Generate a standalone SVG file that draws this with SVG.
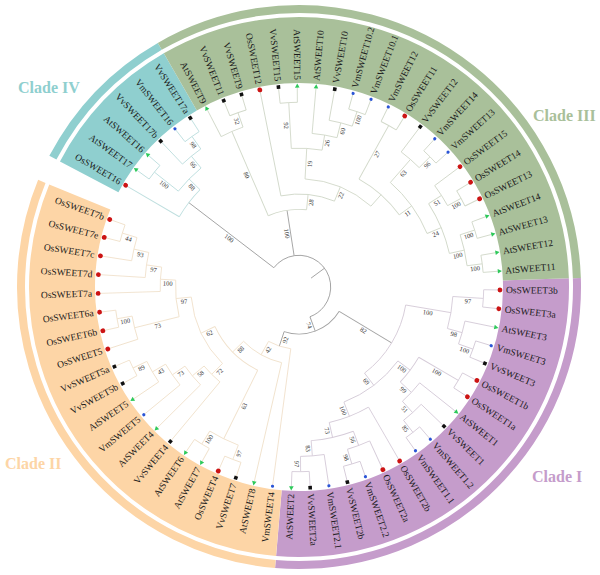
<svg xmlns="http://www.w3.org/2000/svg" xmlns:xlink="http://www.w3.org/1999/xlink" width="600" height="575" viewBox="0 0 600 575">
<style>
.sec{fill:none}
.b0,.b1,.b2,.b3,.b4{fill:none;stroke-width:0.9}
.b0{stroke:#a3a3a3}
.b1{stroke:#d6ccd9}
.b2{stroke:#f1e2cd}
.b3{stroke:#d2d9ca}
.b4{stroke:#bfdfdf}
text{font-family:"Liberation Serif","Times New Roman",serif}
.r{font-size:9.5px;fill:#1a1a1a;text-anchor:start;dominant-baseline:central}
.l{font-size:9.5px;fill:#1a1a1a;text-anchor:end;dominant-baseline:central}
.bs{font-size:6.5px;fill:#333;text-anchor:middle;dominant-baseline:central}
.cl{font-size:16px;font-weight:bold}
</style>
<defs>
<circle id="os" r="2.4" fill="#cc1414"/>
<polygon id="at" points="2.6,0 -1.6,2.3 -1.6,-2.3" fill="#2dc95a"/>
<rect id="vv" x="-1.8" y="-1.8" width="3.6" height="3.6" fill="#111"/>
<circle id="vm" r="1.6" fill="#2b55d6"/>
</defs>
<rect width="600" height="575" fill="#fff"/>
<g id="sectors" transform="translate(299,287)">
<circle class="sec" r="237" stroke="#c59ccb" stroke-width="66" pathLength="360" stroke-dasharray="96.72 400" transform="rotate(-1.84)"/>
<circle class="sec" r="237" stroke="#fdd5a6" stroke-width="66" pathLength="360" stroke-dasharray="107.46 400" transform="rotate(94.88)"/>
<circle class="sec" r="237" stroke="#8fcfcf" stroke-width="66" pathLength="360" stroke-dasharray="32.24 400" transform="rotate(207.71)"/>
<circle class="sec" r="237" stroke="#a9c09a" stroke-width="66" pathLength="360" stroke-dasharray="118.21 400" transform="rotate(239.95)"/>
<circle class="sec" r="278" stroke="#c59ccb" stroke-width="8" pathLength="360" stroke-dasharray="96.72 400" transform="rotate(-1.84)"/>
<circle class="sec" r="278" stroke="#fdd5a6" stroke-width="8" pathLength="360" stroke-dasharray="107.46 400" transform="rotate(94.88)"/>
<circle class="sec" r="278" stroke="#8fcfcf" stroke-width="8" pathLength="360" stroke-dasharray="32.24 400" transform="rotate(207.71)"/>
<circle class="sec" r="278" stroke="#a9c09a" stroke-width="8" pathLength="360" stroke-dasharray="118.21 400" transform="rotate(239.95)"/>
</g>
<g id="clade-labels">
<text class="cl" x="18" y="93" fill="#8fcfcf">Clade IV</text>
<text class="cl" x="533" y="121" fill="#a9c09a">Clade III</text>
<text class="cl" x="532" y="482" fill="#c59ccb">Clade I</text>
<text class="cl" x="5" y="469" fill="#fdd5a6">Clade II</text>
</g>
<g id="connectors" transform="translate(299,287)">
<g class="b0">
<circle r="31.7" pathLength="360" stroke-dasharray="212.34 400" transform="rotate(217.45)"/>
<circle r="47" pathLength="360" stroke-dasharray="77.26 400" transform="rotate(31.16)"/>
<line x1="15" x2="31.7" transform="rotate(323.62)"/>
<line x1="31.7" x2="138.8" transform="rotate(217.45)"/>
<line x1="31.7" x2="77.6" transform="rotate(261.13)"/>
<line x1="31.7" x2="47" transform="rotate(69.79)"/>
<line x1="47" x2="108.2" transform="rotate(31.16)"/>
<line x1="47" x2="62.3" transform="rotate(108.42)"/>
</g>
<g class="b1">
<circle r="184.7" pathLength="360" stroke-dasharray="5.37 400" transform="rotate(0.85)"/>
<circle r="184.7" pathLength="360" stroke-dasharray="5.37 400" transform="rotate(16.97)"/>
<circle r="169.4" pathLength="360" stroke-dasharray="8.06 400" transform="rotate(11.6)"/>
<circle r="154.1" pathLength="360" stroke-dasharray="12.09 400" transform="rotate(3.54)"/>
<circle r="184.7" pathLength="360" stroke-dasharray="5.37 400" transform="rotate(27.72)"/>
<circle r="184.7" pathLength="360" stroke-dasharray="5.37 400" transform="rotate(49.21)"/>
<circle r="169.4" pathLength="360" stroke-dasharray="8.07 400" transform="rotate(43.83)"/>
<circle r="154.1" pathLength="360" stroke-dasharray="9.4 400" transform="rotate(38.46)"/>
<circle r="138.8" pathLength="360" stroke-dasharray="12.76 400" transform="rotate(30.4)"/>
<circle r="184.7" pathLength="360" stroke-dasharray="5.37 400" transform="rotate(70.7)"/>
<circle r="169.4" pathLength="360" stroke-dasharray="8.05 400" transform="rotate(65.33)"/>
<circle r="184.7" pathLength="360" stroke-dasharray="5.37 400" transform="rotate(86.82)"/>
<circle r="169.4" pathLength="360" stroke-dasharray="8.05 400" transform="rotate(81.45)"/>
<circle r="154.1" pathLength="360" stroke-dasharray="16.12 400" transform="rotate(69.36)"/>
<circle r="138.8" pathLength="360" stroke-dasharray="17.47 400" transform="rotate(59.95)"/>
<circle r="123.5" pathLength="360" stroke-dasharray="31.9 400" transform="rotate(36.78)"/>
<circle r="108.2" pathLength="360" stroke-dasharray="43.15 400" transform="rotate(9.58)"/>
<line x1="184.7" x2="200" transform="rotate(0.85)"/>
<line x1="184.7" x2="200" transform="rotate(6.22)"/>
<line x1="169.4" x2="200" transform="rotate(11.6)"/>
<line x1="184.7" x2="200" transform="rotate(16.97)"/>
<line x1="184.7" x2="200" transform="rotate(22.34)"/>
<line x1="184.7" x2="200" transform="rotate(27.72)"/>
<line x1="184.7" x2="200" transform="rotate(33.09)"/>
<line x1="154.1" x2="200" transform="rotate(38.46)"/>
<line x1="169.4" x2="200" transform="rotate(43.83)"/>
<line x1="184.7" x2="200" transform="rotate(49.21)"/>
<line x1="184.7" x2="200" transform="rotate(54.58)"/>
<line x1="138.8" x2="200" transform="rotate(59.95)"/>
<line x1="169.4" x2="200" transform="rotate(65.33)"/>
<line x1="184.7" x2="200" transform="rotate(70.7)"/>
<line x1="184.7" x2="200" transform="rotate(76.07)"/>
<line x1="169.4" x2="200" transform="rotate(81.45)"/>
<line x1="184.7" x2="200" transform="rotate(86.82)"/>
<line x1="184.7" x2="200" transform="rotate(92.19)"/>
<line x1="154.1" x2="184.7" transform="rotate(3.54)"/>
<line x1="169.4" x2="184.7" transform="rotate(19.66)"/>
<line x1="154.1" x2="169.4" transform="rotate(15.63)"/>
<line x1="108.2" x2="154.1" transform="rotate(9.58)"/>
<line x1="138.8" x2="184.7" transform="rotate(30.4)"/>
<line x1="169.4" x2="184.7" transform="rotate(51.9)"/>
<line x1="154.1" x2="169.4" transform="rotate(47.86)"/>
<line x1="138.8" x2="154.1" transform="rotate(43.16)"/>
<line x1="123.5" x2="138.8" transform="rotate(36.78)"/>
<line x1="169.4" x2="184.7" transform="rotate(73.38)"/>
<line x1="154.1" x2="169.4" transform="rotate(69.36)"/>
<line x1="169.4" x2="184.7" transform="rotate(89.5)"/>
<line x1="154.1" x2="169.4" transform="rotate(85.48)"/>
<line x1="138.8" x2="154.1" transform="rotate(77.42)"/>
<line x1="123.5" x2="138.8" transform="rotate(68.68)"/>
<line x1="108.2" x2="123.5" transform="rotate(52.73)"/>
</g>
<g class="b2">
<circle r="184.7" pathLength="360" stroke-dasharray="5.38 400" transform="rotate(108.31)"/>
<circle r="184.7" pathLength="360" stroke-dasharray="5.37 400" transform="rotate(119.06)"/>
<circle r="169.4" pathLength="360" stroke-dasharray="10.75 400" transform="rotate(111)"/>
<circle r="184.7" pathLength="360" stroke-dasharray="5.37 400" transform="rotate(151.3)"/>
<circle r="169.4" pathLength="360" stroke-dasharray="8.06 400" transform="rotate(145.92)"/>
<circle r="154.1" pathLength="360" stroke-dasharray="9.4 400" transform="rotate(140.55)"/>
<circle r="138.8" pathLength="360" stroke-dasharray="10.07 400" transform="rotate(135.18)"/>
<circle r="123.5" pathLength="360" stroke-dasharray="10.41 400" transform="rotate(129.8)"/>
<circle r="184.7" pathLength="360" stroke-dasharray="5.37 400" transform="rotate(194.28)"/>
<circle r="169.4" pathLength="360" stroke-dasharray="8.06 400" transform="rotate(188.91)"/>
<circle r="154.1" pathLength="360" stroke-dasharray="9.4 400" transform="rotate(183.54)"/>
<circle r="138.8" pathLength="360" stroke-dasharray="10.08 400" transform="rotate(178.16)"/>
<circle r="184.7" pathLength="360" stroke-dasharray="5.37 400" transform="rotate(167.42)"/>
<circle r="169.4" pathLength="360" stroke-dasharray="8.06 400" transform="rotate(162.04)"/>
<circle r="123.5" pathLength="360" stroke-dasharray="17.13 400" transform="rotate(166.07)"/>
<circle r="108.2" pathLength="360" stroke-dasharray="39.63 400" transform="rotate(135.01)"/>
<circle r="92.9" pathLength="360" stroke-dasharray="38.45 400" transform="rotate(116.37)"/>
<circle r="77.6" pathLength="360" stroke-dasharray="32.66 400" transform="rotate(102.94)"/>
<circle r="62.3" pathLength="360" stroke-dasharray="21.7 400" transform="rotate(97.57)"/>
<line x1="62.3" x2="200" transform="rotate(97.57)"/>
<line x1="77.6" x2="200" transform="rotate(102.94)"/>
<line x1="184.7" x2="200" transform="rotate(108.31)"/>
<line x1="184.7" x2="200" transform="rotate(113.69)"/>
<line x1="184.7" x2="200" transform="rotate(119.06)"/>
<line x1="184.7" x2="200" transform="rotate(124.43)"/>
<line x1="123.5" x2="200" transform="rotate(129.8)"/>
<line x1="138.8" x2="200" transform="rotate(135.18)"/>
<line x1="154.1" x2="200" transform="rotate(140.55)"/>
<line x1="169.4" x2="200" transform="rotate(145.92)"/>
<line x1="184.7" x2="200" transform="rotate(151.3)"/>
<line x1="184.7" x2="200" transform="rotate(156.67)"/>
<line x1="169.4" x2="200" transform="rotate(162.04)"/>
<line x1="184.7" x2="200" transform="rotate(167.42)"/>
<line x1="184.7" x2="200" transform="rotate(172.79)"/>
<line x1="138.8" x2="200" transform="rotate(178.16)"/>
<line x1="154.1" x2="200" transform="rotate(183.54)"/>
<line x1="169.4" x2="200" transform="rotate(188.91)"/>
<line x1="184.7" x2="200" transform="rotate(194.28)"/>
<line x1="184.7" x2="200" transform="rotate(199.65)"/>
<line x1="169.4" x2="184.7" transform="rotate(111)"/>
<line x1="169.4" x2="184.7" transform="rotate(121.75)"/>
<line x1="92.9" x2="169.4" transform="rotate(116.37)"/>
<line x1="169.4" x2="184.7" transform="rotate(153.98)"/>
<line x1="154.1" x2="169.4" transform="rotate(149.95)"/>
<line x1="138.8" x2="154.1" transform="rotate(145.25)"/>
<line x1="123.5" x2="138.8" transform="rotate(140.21)"/>
<line x1="108.2" x2="123.5" transform="rotate(135.01)"/>
<line x1="169.4" x2="184.7" transform="rotate(196.97)"/>
<line x1="154.1" x2="169.4" transform="rotate(192.94)"/>
<line x1="138.8" x2="154.1" transform="rotate(188.24)"/>
<line x1="123.5" x2="138.8" transform="rotate(183.2)"/>
<line x1="169.4" x2="184.7" transform="rotate(170.1)"/>
<line x1="123.5" x2="169.4" transform="rotate(166.07)"/>
<line x1="108.2" x2="123.5" transform="rotate(174.64)"/>
<line x1="92.9" x2="108.2" transform="rotate(154.82)"/>
<line x1="77.6" x2="92.9" transform="rotate(135.6)"/>
<line x1="62.3" x2="77.6" transform="rotate(119.27)"/>
</g>
<g class="b4">
<circle r="184.7" pathLength="360" stroke-dasharray="5.38 400" transform="rotate(231.89)"/>
<circle r="169.4" pathLength="360" stroke-dasharray="8.06 400" transform="rotate(226.52)"/>
<circle r="184.7" pathLength="360" stroke-dasharray="5.38 400" transform="rotate(215.77)"/>
<circle r="154.1" pathLength="360" stroke-dasharray="12.09 400" transform="rotate(218.46)"/>
<circle r="138.8" pathLength="360" stroke-dasharray="14.1 400" transform="rotate(210.4)"/>
<line x1="138.8" x2="200" transform="rotate(210.4)"/>
<line x1="184.7" x2="200" transform="rotate(215.77)"/>
<line x1="184.7" x2="200" transform="rotate(221.15)"/>
<line x1="169.4" x2="200" transform="rotate(226.52)"/>
<line x1="184.7" x2="200" transform="rotate(231.89)"/>
<line x1="184.7" x2="200" transform="rotate(237.27)"/>
<line x1="169.4" x2="184.7" transform="rotate(234.58)"/>
<line x1="154.1" x2="169.4" transform="rotate(230.55)"/>
<line x1="154.1" x2="184.7" transform="rotate(218.46)"/>
<line x1="138.8" x2="154.1" transform="rotate(224.5)"/>
</g>
<g class="b3">
<circle r="184.7" pathLength="360" stroke-dasharray="5.37 400" transform="rotate(248.01)"/>
<circle r="169.4" pathLength="360" stroke-dasharray="8.06 400" transform="rotate(242.64)"/>
<circle r="184.7" pathLength="360" stroke-dasharray="5.37 400" transform="rotate(264.13)"/>
<circle r="184.7" pathLength="360" stroke-dasharray="5.38 400" transform="rotate(285.62)"/>
<circle r="169.4" pathLength="360" stroke-dasharray="8.06 400" transform="rotate(280.25)"/>
<circle r="154.1" pathLength="360" stroke-dasharray="9.4 400" transform="rotate(274.88)"/>
<circle r="138.8" pathLength="360" stroke-dasharray="12.76 400" transform="rotate(266.82)"/>
<circle r="184.7" pathLength="360" stroke-dasharray="5.37 400" transform="rotate(296.37)"/>
<circle r="184.7" pathLength="360" stroke-dasharray="5.37 400" transform="rotate(312.49)"/>
<circle r="169.4" pathLength="360" stroke-dasharray="8.07 400" transform="rotate(307.11)"/>
<circle r="184.7" pathLength="360" stroke-dasharray="5.37 400" transform="rotate(328.61)"/>
<circle r="169.4" pathLength="360" stroke-dasharray="8.07 400" transform="rotate(323.23)"/>
<circle r="184.7" pathLength="360" stroke-dasharray="5.38 400" transform="rotate(339.35)"/>
<circle r="184.7" pathLength="360" stroke-dasharray="5.37 400" transform="rotate(350.1)"/>
<circle r="169.4" pathLength="360" stroke-dasharray="10.75 400" transform="rotate(342.04)"/>
<circle r="154.1" pathLength="360" stroke-dasharray="20.15 400" transform="rotate(327.27)"/>
<circle r="138.8" pathLength="360" stroke-dasharray="26.19 400" transform="rotate(311.15)"/>
<circle r="123.5" pathLength="360" stroke-dasharray="25.19 400" transform="rotate(299.06)"/>
<circle r="108.2" pathLength="360" stroke-dasharray="38.45 400" transform="rotate(273.2)"/>
<circle r="92.9" pathLength="360" stroke-dasharray="33.67 400" transform="rotate(258.76)"/>
<circle r="77.6" pathLength="360" stroke-dasharray="28.93 400" transform="rotate(246.67)"/>
<line x1="169.4" x2="200" transform="rotate(242.64)"/>
<line x1="184.7" x2="200" transform="rotate(248.01)"/>
<line x1="184.7" x2="200" transform="rotate(253.38)"/>
<line x1="92.9" x2="200" transform="rotate(258.76)"/>
<line x1="184.7" x2="200" transform="rotate(264.13)"/>
<line x1="184.7" x2="200" transform="rotate(269.5)"/>
<line x1="154.1" x2="200" transform="rotate(274.88)"/>
<line x1="169.4" x2="200" transform="rotate(280.25)"/>
<line x1="184.7" x2="200" transform="rotate(285.62)"/>
<line x1="184.7" x2="200" transform="rotate(291)"/>
<line x1="184.7" x2="200" transform="rotate(296.37)"/>
<line x1="184.7" x2="200" transform="rotate(301.74)"/>
<line x1="169.4" x2="200" transform="rotate(307.11)"/>
<line x1="184.7" x2="200" transform="rotate(312.49)"/>
<line x1="184.7" x2="200" transform="rotate(317.86)"/>
<line x1="169.4" x2="200" transform="rotate(323.23)"/>
<line x1="184.7" x2="200" transform="rotate(328.61)"/>
<line x1="184.7" x2="200" transform="rotate(333.98)"/>
<line x1="184.7" x2="200" transform="rotate(339.35)"/>
<line x1="184.7" x2="200" transform="rotate(344.73)"/>
<line x1="184.7" x2="200" transform="rotate(350.1)"/>
<line x1="184.7" x2="200" transform="rotate(355.47)"/>
<line x1="169.4" x2="184.7" transform="rotate(250.7)"/>
<line x1="77.6" x2="169.4" transform="rotate(246.67)"/>
<line x1="138.8" x2="184.7" transform="rotate(266.82)"/>
<line x1="169.4" x2="184.7" transform="rotate(288.31)"/>
<line x1="154.1" x2="169.4" transform="rotate(284.28)"/>
<line x1="138.8" x2="154.1" transform="rotate(279.58)"/>
<line x1="108.2" x2="138.8" transform="rotate(273.2)"/>
<line x1="123.5" x2="184.7" transform="rotate(299.06)"/>
<line x1="169.4" x2="184.7" transform="rotate(315.18)"/>
<line x1="138.8" x2="169.4" transform="rotate(311.15)"/>
<line x1="169.4" x2="184.7" transform="rotate(331.3)"/>
<line x1="154.1" x2="169.4" transform="rotate(327.27)"/>
<line x1="169.4" x2="184.7" transform="rotate(342.04)"/>
<line x1="169.4" x2="184.7" transform="rotate(352.79)"/>
<line x1="154.1" x2="169.4" transform="rotate(347.42)"/>
<line x1="138.8" x2="154.1" transform="rotate(337.34)"/>
<line x1="123.5" x2="138.8" transform="rotate(324.25)"/>
<line x1="108.2" x2="123.5" transform="rotate(311.65)"/>
<line x1="92.9" x2="108.2" transform="rotate(292.43)"/>
<line x1="77.6" x2="92.9" transform="rotate(275.6)"/>
</g>
</g>
<g id="bootstrap" transform="translate(299,287)">
<text class="bs" transform="rotate(3.54) translate(169.4,3.5)">97</text>
<text class="bs" transform="rotate(19.66) translate(177.05,3.5)">100</text>
<text class="bs" transform="rotate(15.63) translate(161.75,3.5)">98</text>
<text class="bs" transform="rotate(9.58) translate(131.15,3.5)">100</text>
<text class="bs" transform="rotate(30.4) translate(161.75,3.5)">100</text>
<text class="bs" transform="rotate(51.9) translate(177.05,3.5)">85</text>
<text class="bs" transform="rotate(47.86) translate(161.75,3.5)">51</text>
<text class="bs" transform="rotate(43.16) translate(146.45,3.5)">99</text>
<text class="bs" transform="rotate(36.78) translate(131.15,3.5)">100</text>
<text class="bs" transform="rotate(73.38) translate(177.05,3.5)">98</text>
<text class="bs" transform="rotate(69.36) translate(161.75,3.5)">56</text>
<text class="bs" transform="rotate(89.5) translate(177.05,3.5)">97</text>
<text class="bs" transform="rotate(85.48) translate(161.75,3.5)">83</text>
<text class="bs" transform="rotate(77.42) translate(146.45,3.5)">73</text>
<text class="bs" transform="rotate(68.68) translate(131.15,3.5)">100</text>
<text class="bs" transform="rotate(52.73) translate(115.85,3.5)">69</text>
<text class="bs" transform="rotate(31.16) translate(77.6,3.5)">82</text>
<text class="bs" transform="rotate(69.79) translate(39.35,3.5)">74</text>
<text class="bs" transform="rotate(288.31) translate(177.05,3.5)">100</text>
<text class="bs" transform="rotate(284.28) translate(161.75,3.5)">60</text>
<text class="bs" transform="rotate(279.58) translate(146.45,3.5)">26</text>
<text class="bs" transform="rotate(273.2) translate(123.5,3.5)">19</text>
<text class="bs" transform="rotate(299.06) translate(154.1,3.5)">27</text>
<text class="bs" transform="rotate(315.18) translate(177.05,3.5)">96</text>
<text class="bs" transform="rotate(311.15) translate(154.1,3.5)">63</text>
<text class="bs" transform="rotate(331.3) translate(177.05,3.5)">100</text>
<text class="bs" transform="rotate(327.27) translate(161.75,3.5)">51</text>
<text class="bs" transform="rotate(342.04) translate(177.05,3.5)">100</text>
<text class="bs" transform="rotate(352.79) translate(177.05,3.5)">100</text>
<text class="bs" transform="rotate(347.42) translate(161.75,3.5)">100</text>
<text class="bs" transform="rotate(337.34) translate(146.45,3.5)">24</text>
<text class="bs" transform="rotate(324.25) translate(131.15,3.5)">11</text>
<text class="bs" transform="rotate(292.43) translate(100.55,3.5)">22</text>
<text class="bs" transform="rotate(275.6) translate(85.25,3.5)">28</text>
<text class="bs" transform="rotate(111) translate(177.05,-3.5) rotate(180)">97</text>
<text class="bs" transform="rotate(121.75) translate(177.05,-3.5) rotate(180)">100</text>
<text class="bs" transform="rotate(116.37) translate(131.15,-3.5) rotate(180)">63</text>
<text class="bs" transform="rotate(153.98) translate(177.05,-3.5) rotate(180)">89</text>
<text class="bs" transform="rotate(149.95) translate(161.75,-3.5) rotate(180)">43</text>
<text class="bs" transform="rotate(145.25) translate(146.45,-3.5) rotate(180)">73</text>
<text class="bs" transform="rotate(140.21) translate(131.15,-3.5) rotate(180)">58</text>
<text class="bs" transform="rotate(135.01) translate(115.85,-3.5) rotate(180)">72</text>
<text class="bs" transform="rotate(196.97) translate(177.05,-3.5) rotate(180)">44</text>
<text class="bs" transform="rotate(192.94) translate(161.75,-3.5) rotate(180)">93</text>
<text class="bs" transform="rotate(188.24) translate(146.45,-3.5) rotate(180)">97</text>
<text class="bs" transform="rotate(183.2) translate(131.15,-3.5) rotate(180)">100</text>
<text class="bs" transform="rotate(170.1) translate(177.05,-3.5) rotate(180)">100</text>
<text class="bs" transform="rotate(166.07) translate(146.45,-3.5) rotate(180)">73</text>
<text class="bs" transform="rotate(174.64) translate(115.85,-3.5) rotate(180)">97</text>
<text class="bs" transform="rotate(154.82) translate(100.55,-3.5) rotate(180)">62</text>
<text class="bs" transform="rotate(135.6) translate(85.25,-3.5) rotate(180)">88</text>
<text class="bs" transform="rotate(119.27) translate(69.95,-3.5) rotate(180)">42</text>
<text class="bs" transform="rotate(108.42) translate(54.65,-3.5) rotate(180)">92</text>
<text class="bs" transform="rotate(234.58) translate(177.05,-3.5) rotate(180)">98</text>
<text class="bs" transform="rotate(230.55) translate(161.75,-3.5) rotate(180)">66</text>
<text class="bs" transform="rotate(218.46) translate(169.4,-3.5) rotate(180)">100</text>
<text class="bs" transform="rotate(224.5) translate(146.45,-3.5) rotate(180)">88</text>
<text class="bs" transform="rotate(217.45) translate(85.25,-3.5) rotate(180)">100</text>
<text class="bs" transform="rotate(250.7) translate(177.05,-3.5) rotate(180)">32</text>
<text class="bs" transform="rotate(246.67) translate(123.5,-3.5) rotate(180)">80</text>
<text class="bs" transform="rotate(266.82) translate(161.75,-3.5) rotate(180)">92</text>
<text class="bs" transform="rotate(261.13) translate(54.65,-3.5) rotate(180)">100</text>
</g>
<g id="leaves" transform="translate(299,287)">
<g id="OsSWEET3b" transform="rotate(0.85)"><use href="#os" x="201"/><text class="r" x="207">OsSWEET3b</text></g>
<g id="OsSWEET3a" transform="rotate(6.22)"><use href="#os" x="201"/><text class="r" x="207">OsSWEET3a</text></g>
<g id="AtSWEET3" transform="rotate(11.6)"><use href="#at" x="201"/><text class="r" x="207">AtSWEET3</text></g>
<g id="VmSWEET3" transform="rotate(16.97)"><use href="#vm" x="201"/><text class="r" x="207">VmSWEET3</text></g>
<g id="VvSWEET3" transform="rotate(22.34)"><use href="#vv" x="201"/><text class="r" x="207">VvSWEET3</text></g>
<g id="OsSWEET1b" transform="rotate(27.72)"><use href="#os" x="201"/><text class="r" x="207">OsSWEET1b</text></g>
<g id="OsSWEET1a" transform="rotate(33.09)"><use href="#os" x="201"/><text class="r" x="207">OsSWEET1a</text></g>
<g id="AtSWEET1" transform="rotate(38.46)"><use href="#at" x="201"/><text class="r" x="207">AtSWEET1</text></g>
<g id="VvSWEET1" transform="rotate(43.83)"><use href="#vv" x="201"/><text class="r" x="207">VvSWEET1</text></g>
<g id="VmSWEET1.2" transform="rotate(49.21)"><use href="#vm" x="201"/><text class="r" x="207">VmSWEET1.2</text></g>
<g id="VmSWEET1.1" transform="rotate(54.58)"><use href="#vm" x="201"/><text class="r" x="207">VmSWEET1.1</text></g>
<g id="OsSWEET2b" transform="rotate(59.95)"><use href="#os" x="201"/><text class="r" x="207">OsSWEET2b</text></g>
<g id="OsSWEET2a" transform="rotate(65.33)"><use href="#os" x="201"/><text class="r" x="207">OsSWEET2a</text></g>
<g id="VmSWEET2.2" transform="rotate(70.7)"><use href="#vm" x="201"/><text class="r" x="207">VmSWEET2.2</text></g>
<g id="VvSWEET2b" transform="rotate(76.07)"><use href="#vv" x="201"/><text class="r" x="207">VvSWEET2b</text></g>
<g id="VmSWEET2.1" transform="rotate(81.45)"><use href="#vm" x="201"/><text class="r" x="207">VmSWEET2.1</text></g>
<g id="VvSWEET2a" transform="rotate(86.82)"><use href="#vv" x="201"/><text class="r" x="207">VvSWEET2a</text></g>
<g id="AtSWEET2" transform="rotate(92.19)"><use href="#at" x="201"/><text class="l" transform="translate(207) rotate(180)">AtSWEET2</text></g>
<g id="VmSWEET4" transform="rotate(97.57)"><use href="#vm" x="201"/><text class="l" transform="translate(207) rotate(180)">VmSWEET4</text></g>
<g id="AtSWEET8" transform="rotate(102.94)"><use href="#at" x="201"/><text class="l" transform="translate(207) rotate(180)">AtSWEET8</text></g>
<g id="VvSWEET7" transform="rotate(108.31)"><use href="#vv" x="201"/><text class="l" transform="translate(207) rotate(180)">VvSWEET7</text></g>
<g id="OsSWEET4" transform="rotate(113.69)"><use href="#os" x="201"/><text class="l" transform="translate(207) rotate(180)">OsSWEET4</text></g>
<g id="AtSWEET7" transform="rotate(119.06)"><use href="#at" x="201"/><text class="l" transform="translate(207) rotate(180)">AtSWEET7</text></g>
<g id="AtSWEET6" transform="rotate(124.43)"><use href="#at" x="201"/><text class="l" transform="translate(207) rotate(180)">AtSWEET6</text></g>
<g id="VvSWEET4" transform="rotate(129.8)"><use href="#vv" x="201"/><text class="l" transform="translate(207) rotate(180)">VvSWEET4</text></g>
<g id="AtSWEET4" transform="rotate(135.18)"><use href="#at" x="201"/><text class="l" transform="translate(207) rotate(180)">AtSWEET4</text></g>
<g id="VmSWEET5" transform="rotate(140.55)"><use href="#vm" x="201"/><text class="l" transform="translate(207) rotate(180)">VmSWEET5</text></g>
<g id="AtSWEET5" transform="rotate(145.92)"><use href="#at" x="201"/><text class="l" transform="translate(207) rotate(180)">AtSWEET5</text></g>
<g id="VvSWEET5b" transform="rotate(151.3)"><use href="#vv" x="201"/><text class="l" transform="translate(207) rotate(180)">VvSWEET5b</text></g>
<g id="VvSWEET5a" transform="rotate(156.67)"><use href="#vv" x="201"/><text class="l" transform="translate(207) rotate(180)">VvSWEET5a</text></g>
<g id="OsSWEET5" transform="rotate(162.04)"><use href="#os" x="201"/><text class="l" transform="translate(207) rotate(180)">OsSWEET5</text></g>
<g id="OsSWEET6b" transform="rotate(167.42)"><use href="#os" x="201"/><text class="l" transform="translate(207) rotate(180)">OsSWEET6b</text></g>
<g id="OsSWEET6a" transform="rotate(172.79)"><use href="#os" x="201"/><text class="l" transform="translate(207) rotate(180)">OsSWEET6a</text></g>
<g id="OsSWEET7a" transform="rotate(178.16)"><use href="#os" x="201"/><text class="l" transform="translate(207) rotate(180)">OsSWEET7a</text></g>
<g id="OsSWEET7d" transform="rotate(183.54)"><use href="#os" x="201"/><text class="l" transform="translate(207) rotate(180)">OsSWEET7d</text></g>
<g id="OsSWEET7c" transform="rotate(188.91)"><use href="#os" x="201"/><text class="l" transform="translate(207) rotate(180)">OsSWEET7c</text></g>
<g id="OsSWEET7e" transform="rotate(194.28)"><use href="#os" x="201"/><text class="l" transform="translate(207) rotate(180)">OsSWEET7e</text></g>
<g id="OsSWEET7b" transform="rotate(199.65)"><use href="#os" x="201"/><text class="l" transform="translate(207) rotate(180)">OsSWEET7b</text></g>
<g id="OsSWEET16" transform="rotate(210.4)"><use href="#os" x="201"/><text class="l" transform="translate(207) rotate(180)">OsSWEET16</text></g>
<g id="AtSWEET17" transform="rotate(215.77)"><use href="#at" x="201"/><text class="l" transform="translate(207) rotate(180)">AtSWEET17</text></g>
<g id="AtSWEET16" transform="rotate(221.15)"><use href="#at" x="201"/><text class="l" transform="translate(207) rotate(180)">AtSWEET16</text></g>
<g id="VvSWEET17b" transform="rotate(226.52)"><use href="#vv" x="201"/><text class="l" transform="translate(207) rotate(180)">VvSWEET17b</text></g>
<g id="VmSWEET16" transform="rotate(231.89)"><use href="#vm" x="201"/><text class="l" transform="translate(207) rotate(180)">VmSWEET16</text></g>
<g id="VvSWEET17a" transform="rotate(237.27)"><use href="#vv" x="201"/><text class="l" transform="translate(207) rotate(180)">VvSWEET17a</text></g>
<g id="AtSWEET9" transform="rotate(242.64)"><use href="#at" x="201"/><text class="l" transform="translate(207) rotate(180)">AtSWEET9</text></g>
<g id="VvSWEET11" transform="rotate(248.01)"><use href="#vv" x="201"/><text class="l" transform="translate(207) rotate(180)">VvSWEET11</text></g>
<g id="VvSWEET9" transform="rotate(253.38)"><use href="#vv" x="201"/><text class="l" transform="translate(207) rotate(180)">VvSWEET9</text></g>
<g id="OsSWEET12" transform="rotate(258.76)"><use href="#os" x="201"/><text class="l" transform="translate(207) rotate(180)">OsSWEET12</text></g>
<g id="VvSWEET15" transform="rotate(264.13)"><use href="#vv" x="201"/><text class="l" transform="translate(207) rotate(180)">VvSWEET15</text></g>
<g id="AtSWEET15" transform="rotate(269.5)"><use href="#at" x="201"/><text class="l" transform="translate(207) rotate(180)">AtSWEET15</text></g>
<g id="AtSWEET10" transform="rotate(274.88)"><use href="#at" x="201"/><text class="r" x="207">AtSWEET10</text></g>
<g id="VvSWEET10" transform="rotate(280.25)"><use href="#vv" x="201"/><text class="r" x="207">VvSWEET10</text></g>
<g id="VmSWEET10.2" transform="rotate(285.62)"><use href="#vm" x="201"/><text class="r" x="207">VmSWEET10.2</text></g>
<g id="VmSWEET10.1" transform="rotate(291)"><use href="#vm" x="201"/><text class="r" x="207">VmSWEET10.1</text></g>
<g id="VmSWEET12" transform="rotate(296.37)"><use href="#vm" x="201"/><text class="r" x="207">VmSWEET12</text></g>
<g id="OsSWEET11" transform="rotate(301.74)"><use href="#os" x="201"/><text class="r" x="207">OsSWEET11</text></g>
<g id="VvSWEET12" transform="rotate(307.11)"><use href="#vv" x="201"/><text class="r" x="207">VvSWEET12</text></g>
<g id="VmSWEET14" transform="rotate(312.49)"><use href="#vm" x="201"/><text class="r" x="207">VmSWEET14</text></g>
<g id="VmSWEET13" transform="rotate(317.86)"><use href="#vm" x="201"/><text class="r" x="207">VmSWEET13</text></g>
<g id="OsSWEET15" transform="rotate(323.23)"><use href="#os" x="201"/><text class="r" x="207">OsSWEET15</text></g>
<g id="OsSWEET14" transform="rotate(328.61)"><use href="#os" x="201"/><text class="r" x="207">OsSWEET14</text></g>
<g id="OsSWEET13" transform="rotate(333.98)"><use href="#os" x="201"/><text class="r" x="207">OsSWEET13</text></g>
<g id="AtSWEET14" transform="rotate(339.35)"><use href="#at" x="201"/><text class="r" x="207">AtSWEET14</text></g>
<g id="AtSWEET13" transform="rotate(344.73)"><use href="#at" x="201"/><text class="r" x="207">AtSWEET13</text></g>
<g id="AtSWEET12" transform="rotate(350.1)"><use href="#at" x="201"/><text class="r" x="207">AtSWEET12</text></g>
<g id="AtSWEET11" transform="rotate(355.47)"><use href="#at" x="201"/><text class="r" x="207">AtSWEET11</text></g>
</g>
</svg>
